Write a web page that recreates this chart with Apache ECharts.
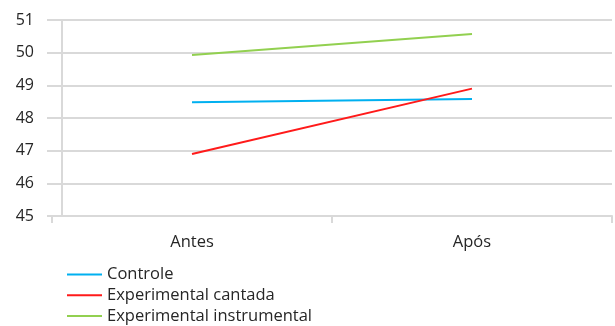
<!DOCTYPE html>
<html>
<head>
<meta charset="utf-8">
<script src="https://cdn.jsdelivr.net/npm/echarts@6/dist/echarts.min.js"></script>
<style>
  html, body { margin: 0; padding: 0; background: #fff; }
  #chart { width: 615px; height: 326px; }
</style>
</head>
<body>
<div id="chart"></div>
<script>
// Categories and mean scores per group
const categories = ['Antes', 'Após'];
const controle = [48.48, 48.58];
const expCantada = [46.9, 48.9];
const expInstrumental = [49.93, 50.57];

const seriesNames = ['Controle', 'Experimental cantada', 'Experimental instrumental'];
const seriesColors = ['#00B0F0', '#FF1A1A', '#92D050'];
const seriesData = [controle, expCantada, expInstrumental];

const gridColor = '#d9d9d9';
const textColor = '#262626';
const fontFamily = '"Open Sans", Lato, sans-serif';

const chart = echarts.init(document.getElementById('chart'));
chart.setOption({
  animation: false,
  textStyle: { fontFamily: fontFamily },
  grid: { left: 52, right: 3, top: 20, bottom: 110 },
  xAxis: {
    type: 'category',
    data: categories,
    boundaryGap: true,
    axisLine: { show: true, lineStyle: { color: gridColor, width: 2 } },
    axisTick: { show: true, length: 7, lineStyle: { color: gridColor, width: 2 } },
    axisLabel: { color: textColor, fontSize: 16.5, margin: 18, fontFamily: fontFamily },
    splitLine: { show: false }
  },
  yAxis: {
    type: 'value',
    min: 45,
    max: 51,
    interval: 1,
    offset: -10,
    axisLine: { show: true, lineStyle: { color: gridColor, width: 2 } },
    axisTick: { show: true, length: 15, lineStyle: { color: gridColor, width: 2 } },
    axisLabel: { color: textColor, fontSize: 16, margin: 28, fontFamily: fontFamily },
    splitLine: { show: true, lineStyle: { color: gridColor, width: 2 } }
  },
  legend: {
    orient: 'vertical',
    left: 67,
    top: 266,
    width: 300,
    height: 80,
    padding: 0,
    itemWidth: 35,
    itemHeight: 2,
    itemGap: 3.8,
    icon: 'rect',
    textStyle: { color: textColor, fontSize: 16.5, lineHeight: 16, fontFamily: fontFamily },
    data: seriesNames
  },
  series: seriesNames.map((name, i) => ({
    name: name,
    type: 'line',
    data: seriesData[i],
    symbol: 'none',
    itemStyle: { color: seriesColors[i] },
    lineStyle: { color: seriesColors[i], width: 2 }
  }))
});
</script>
</body>
</html>
